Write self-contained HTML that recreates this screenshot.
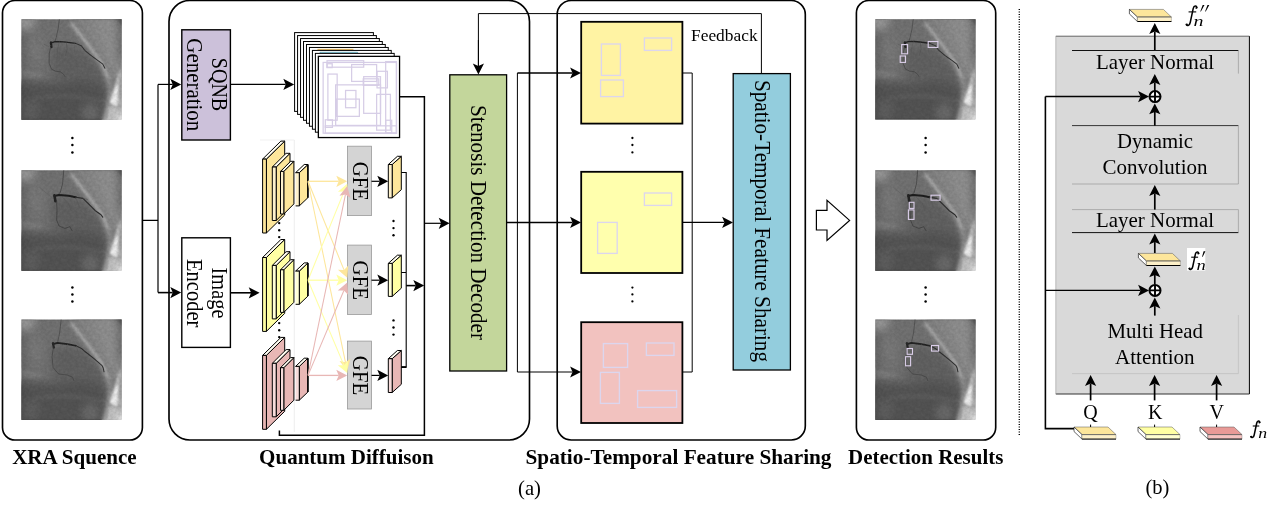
<!DOCTYPE html>
<html><head><meta charset="utf-8"><title>figure</title>
<style>
html,body{margin:0;padding:0;background:#fff;}
body{width:1269px;height:510px;overflow:hidden;font-family:"Liberation Serif",serif;}
svg{display:block;}
</style></head><body>
<svg width="1269" height="510" viewBox="0 0 1269 510">
<rect width="1269" height="510" fill="#fff"/>
<g id="all" style="will-change:opacity;opacity:0.9999">
<defs>
<filter id="b4" x="-20%" y="-20%" width="140%" height="140%"><feGaussianBlur stdDeviation="4"/></filter>
<filter id="b2" x="-20%" y="-20%" width="140%" height="140%"><feGaussianBlur stdDeviation="2"/></filter>
<filter id="b1" x="-20%" y="-20%" width="140%" height="140%"><feGaussianBlur stdDeviation="0.9"/></filter>
<filter id="b05" x="-20%" y="-20%" width="140%" height="140%"><feGaussianBlur stdDeviation="0.35"/></filter>
<filter id="nz" x="0" y="0" width="100%" height="100%"><feTurbulence type="fractalNoise" baseFrequency="0.35" numOctaves="2" seed="7" result="t"/><feColorMatrix type="matrix" values="0 0 0 0 0  0 0 0 0 0  0 0 0 0 0  1.6 0 0 0 -0.3"/></filter>
<clipPath id="cl"><rect width="100" height="100"/></clipPath>
<g id="xbg" clip-path="url(#cl)">
 <rect width="100" height="100" fill="#747474"/>
 <g filter="url(#b4)">
  <ellipse cx="5" cy="3" rx="9" ry="7" fill="#a0a0a0"/>
  <rect x="-4" y="12" width="8" height="40" fill="#626262"/>
  <ellipse cx="14" cy="30" rx="8" ry="14" fill="#7c7c7c"/>
  <polygon points="50,-5 110,-5 110,62 88,62 80,42 62,17" fill="#8a8a8a"/>
  <polygon points="72,-5 100,-5 96,48 88,50" fill="#929292"/>
  <polygon points="30,27 58,28 78,46 85,62 60,58 30,58" fill="#646464"/>
  <rect x="96" y="-5" width="10" height="46" fill="#6a6a6a"/>
  <polygon points="-10,60 30,62 60,58 86,64 86,110 -10,110" fill="#5a5a5a"/>
  <polygon points="-10,68 30,70 60,66 84,72 84,110 -10,110" fill="#545454"/>
  <ellipse cx="9" cy="90" rx="9" ry="11" fill="#606060"/><rect x="-6" y="60" width="8" height="50" fill="#484848"/>
  <ellipse cx="69" cy="93" rx="8" ry="9" fill="#6e6e6e"/>
 </g>
 <g filter="url(#b2)">
  <path d="M49,3 L62,20 L80,44 L87,60 L88.5,72 L86,84" fill="none" stroke="#bcbcbc" stroke-width="1.9"/>
  <path d="M3,53 Q12,56.5 20,55.5" fill="none" stroke="#8a8a8a" stroke-width="2.8"/>
  <path d="M14,78.5 Q50,73 82,82" fill="none" stroke="#676767" stroke-width="2.2"/>
  <polygon points="98.5,50 88,83 104,89 104,50" fill="#b2b2b2"/>
  <polygon points="86,84 104,90 104,104 81,104" fill="#c6c6c6"/>
  <polygon points="93,-3 103,-3 103,10" fill="#555"/>
  <polygon points="94,101 104,91 104,104" fill="#f4f4f4"/>
 </g>
 <g filter="url(#b1)">
  <path d="M50,4 L62,19.5 L80,43.5 L86.5,58" fill="none" stroke="#c4c4c4" stroke-width="1.1"/>
  <polygon points="98,51 94.5,64 97,64" fill="#cfcfcf"/>
  <polygon points="94.5,64 88.2,83 95,87 99,68" fill="#f0f0f0"/>
  <polygon points="97.3,60 101,60 101,78 96,78" fill="#a2a2a2"/>
  <path d="M87.5,84 Q84,92 85,99" fill="none" stroke="#888" stroke-width="1.1"/>
 </g>
 <line x1="0" y1="0.3" x2="100" y2="0.3" stroke="#4a4a4a" stroke-width="0.6" opacity="0.7"/>
 <line x1="0" y1="99.7" x2="80" y2="99.7" stroke="#2a2a2a" stroke-width="0.7" opacity="0.8"/>
 <rect width="100" height="100" filter="url(#nz)" opacity="0.10"/>
</g>
<g id="xr1">
 <use href="#xbg"/>
 <g clip-path="url(#cl)" filter="url(#b05)" fill="none" stroke-linecap="round" stroke-linejoin="round">
  <path d="M37.9,0 L36.6,10 L34.8,18 L33.6,21.8" stroke="#3a3a3a" stroke-width="0.55"/>
  <path d="M14,18 L22,27 L27,31" stroke="#666" stroke-width="0.45"/>
  <path d="M29.6,23.4 L33,22.4 L39,22.2 L44.5,22.7 L54,24" stroke="#222" stroke-width="1.35"/>
  <path d="M29.5,23 L30,27.8" stroke="#222" stroke-width="2.3"/>
  <path d="M54,24 L59.8,26.3 L62.5,30 L64,31.6 L70,36.5 L77.1,41.6 L81.2,44.7 L83.3,48.8" stroke="#303030" stroke-width="1.0"/>
  <path d="M29.2,28 L27.8,34.5 L27.7,43.7 L30.2,49.8 L34,51.6 L39,52.4 L42,54.5 L43.5,57" stroke="#404040" stroke-width="0.7"/>
  <path d="M45,23.5 L45.6,30 L44,36" stroke="#505050" stroke-width="0.55"/><path d="M38,22.5 L36,30 L35.5,40" stroke="#555" stroke-width="0.5"/><path d="M23,25 L27,27 L29.5,26" stroke="#555" stroke-width="0.5"/>
  <path d="M52.7,24 L53.2,32" stroke="#5a5a5a" stroke-width="0.5"/>
 </g>
</g>
<g id="xr2">
 <use href="#xbg"/>
 <g clip-path="url(#cl)" filter="url(#b05)" fill="none" stroke-linecap="round" stroke-linejoin="round">
  <path d="M42.3,0 L41.1,13.6 L38.8,22 L36.4,24.6" stroke="#333" stroke-width="0.6"/>
  <path d="M18.4,17.2 L25.6,23.2 L30.4,26.8" stroke="#5e5e5e" stroke-width="0.45"/>
  <path d="M33,25.6 L37.6,24.6 L47.1,25.4 L54.3,26.8" stroke="#1c1c1c" stroke-width="1.9"/>
  <path d="M33,25 L34,30.8" stroke="#222" stroke-width="2.6"/>
  <path d="M54.3,26.8 L61.5,28 L63.9,30.4 L67.5,34 L73.4,40 L79.4,44.3 L81.1,46.7" stroke="#2a2a2a" stroke-width="1.15"/>
  <path d="M35.2,31.6 L35.6,40 L35.2,49.5 L37.6,55.5 L43.5,57.9 L48.3,56.2 L50.7,60.3" stroke="#3c3c3c" stroke-width="0.75"/>
  <path d="M41.1,27 L47.1,32.8 L49.5,40" stroke="#555" stroke-width="0.5"/>
  <path d="M54.3,27.5 L57.9,36.4" stroke="#555" stroke-width="0.5"/>
  <path d="M61.5,28 L66,29" stroke="#555" stroke-width="0.5"/>
 </g>
</g>
<g id="xr3">
 <use href="#xbg"/>
 <g clip-path="url(#cl)" filter="url(#b05)" fill="none" stroke-linecap="round" stroke-linejoin="round">
  <path d="M39.7,0 L38.2,13.4 L36.4,22" stroke="#3a3a3a" stroke-width="0.55"/>
  <path d="M18,14 L25,20 L30.6,24" stroke="#666" stroke-width="0.45"/>
  <path d="M31.5,24.6 L36,23.4 L46,24.6 L54.4,26.3" stroke="#202020" stroke-width="1.65"/>
  <path d="M31.6,23.6 L32.4,28.2" stroke="#262626" stroke-width="2.2"/>
  <path d="M54.4,26.3 L60,29 L63,31.7 L66,34 L72.7,39.3 L80.2,45.7 L81.6,48.5 L82.4,52.2" stroke="#2e2e2e" stroke-width="1.05"/>
  <path d="M31.9,28.5 L30.6,37.1 L31.7,47.9 L37.1,54.4 L45.7,55.4 L51.1,57.6 L52.2,60.8" stroke="#404040" stroke-width="0.7"/>
  <path d="M46,25 L44.5,33 L44,42" stroke="#5a5a5a" stroke-width="0.5"/>
  <path d="M55,27 L57.5,36" stroke="#5a5a5a" stroke-width="0.5"/>
 </g>
</g>
</defs>

<rect x="2.5" y="0.5" width="139.9" height="439.5" rx="12.5" ry="12.5" fill="none" stroke="#000" stroke-width="1.65"/>
<rect x="169" y="0.5" width="360.5" height="439.5" rx="21" ry="21" fill="none" stroke="#000" stroke-width="1.65"/>
<rect x="557.2" y="0.5" width="248.0999999999999" height="439.5" rx="14" ry="14" fill="none" stroke="#000" stroke-width="1.65"/>
<rect x="856.4" y="0.5" width="139.30000000000007" height="439.5" rx="12.5" ry="12.5" fill="none" stroke="#000" stroke-width="1.65"/>
<use href="#xr1" transform="translate(21.3,19.3) scale(1.004)"/>
<use href="#xr2" transform="translate(21.3,170.3) scale(1.004)"/>
<use href="#xr3" transform="translate(21.3,319.4) scale(1.004)"/>
<circle cx="72.4" cy="138" r="1.25" fill="#000"/><circle cx="72.4" cy="145" r="1.25" fill="#000"/><circle cx="72.4" cy="152.4" r="1.25" fill="#000"/>
<circle cx="72.4" cy="287.6" r="1.25" fill="#000"/><circle cx="72.4" cy="294.4" r="1.25" fill="#000"/><circle cx="72.4" cy="301.4" r="1.25" fill="#000"/>
<use href="#xr1" transform="translate(875.2,19.2) scale(1.004)"/>
<use href="#xr2" transform="translate(875.2,170.3) scale(1.004)"/>
<use href="#xr3" transform="translate(875.2,319.4) scale(1.004)"/>
<circle cx="925.6" cy="138" r="1.25" fill="#000"/><circle cx="925.6" cy="145" r="1.25" fill="#000"/><circle cx="925.6" cy="152.4" r="1.25" fill="#000"/>
<circle cx="925.6" cy="287.6" r="1.25" fill="#000"/><circle cx="925.6" cy="294.4" r="1.25" fill="#000"/><circle cx="925.6" cy="301.4" r="1.25" fill="#000"/>
<path d="M142.4,220.4 H158 M158,84.4 V292.6" fill="none" stroke="#000" stroke-width="1.2"/>
<line x1="158" y1="84.4" x2="172.70" y2="84.40" stroke="#000" stroke-width="1.2"/><polygon points="181.20,84.40 170.30,90.00 172.70,84.40 170.30,78.80" fill="#000"/>
<line x1="158" y1="292.6" x2="172.70" y2="292.60" stroke="#000" stroke-width="1.6"/><polygon points="181.20,292.60 170.30,298.20 172.70,292.60 170.30,287.00" fill="#000"/>
<rect x="181.8" y="29.8" width="48.6" height="110.2" fill="#ccc1da" stroke="#000" stroke-width="1.4"/>
<text transform="translate(212,84.5) rotate(90)" text-anchor="middle" font-family="Liberation Serif, serif" font-size="22.2" textLength="53.5" lengthAdjust="spacingAndGlyphs">SQNB</text>
<text transform="translate(187,84.8) rotate(90)" text-anchor="middle" font-family="Liberation Serif, serif" font-size="22.2" textLength="93" lengthAdjust="spacingAndGlyphs">Generation</text>
<rect x="181.8" y="237.8" width="48.6" height="109.6" fill="#fff" stroke="#000" stroke-width="1.4"/>
<text transform="translate(212,293) rotate(90)" text-anchor="middle" font-family="Liberation Serif, serif" font-size="22.2" textLength="51" lengthAdjust="spacingAndGlyphs">Image</text>
<text transform="translate(187,293.2) rotate(90)" text-anchor="middle" font-family="Liberation Serif, serif" font-size="22.2" textLength="68.4" lengthAdjust="spacingAndGlyphs">Encoder</text>
<line x1="230.4" y1="84.4" x2="285.70" y2="84.40" stroke="#000" stroke-width="1.2"/><polygon points="294.20,84.40 283.30,90.00 285.70,84.40 283.30,78.80" fill="#000"/>
<line x1="230.4" y1="292.8" x2="251.10" y2="292.80" stroke="#000" stroke-width="1.6"/><polygon points="259.60,292.80 248.70,298.40 251.10,292.80 248.70,287.20" fill="#000"/>
<rect x="294.60" y="32.60" width="78.8" height="78.8" fill="#fff" stroke="#000" stroke-width="1.0"/>
<rect x="297.57" y="35.57" width="78.8" height="78.8" fill="#fff" stroke="#000" stroke-width="1.0"/>
<rect x="300.54" y="38.54" width="78.8" height="78.8" fill="#fff" stroke="#000" stroke-width="1.0"/>
<rect x="303.51" y="41.51" width="78.8" height="78.8" fill="#fff" stroke="#000" stroke-width="1.0"/>
<rect x="306.48" y="44.48" width="78.8" height="78.8" fill="#fff" stroke="#000" stroke-width="1.0"/>
<rect x="309.45" y="47.45" width="78.8" height="78.8" fill="#fff" stroke="#000" stroke-width="1.0"/>
<line x1="317.45" y1="49.35" x2="353.45" y2="49.35" stroke="#e0a93a" stroke-width="0.9"/>
<rect x="312.42" y="50.42" width="78.8" height="78.8" fill="#fff" stroke="#000" stroke-width="1.0"/>
<path d="M320.02,53.42 V52.32 H357.62 V53.42" fill="none" stroke="#3fa0b6" stroke-width="0.8"/>
<rect x="315.39" y="53.39" width="78.8" height="78.8" fill="#fff" stroke="#000" stroke-width="1.0"/>
<rect x="318.36" y="56.36" width="81.2" height="81.2" fill="#fff" stroke="#000" stroke-width="1.3"/>
<rect x="323.14" y="62.44" width="73.32" height="70.73" fill="none" stroke="#d6cde6" stroke-width="1.25"/>
<rect x="327.03" y="60.71" width="36.66" height="6.47" fill="none" stroke="#d6cde6" stroke-width="1.25"/>
<rect x="327.03" y="63.73" width="5.18" height="3.88" fill="none" stroke="#d6cde6" stroke-width="1.25"/>
<rect x="351.61" y="64.59" width="25.01" height="16.82" fill="none" stroke="#d6cde6" stroke-width="1.25"/>
<rect x="363.68" y="76.67" width="16.82" height="36.66" fill="none" stroke="#d6cde6" stroke-width="1.25"/>
<rect x="377.05" y="71.28" width="10.35" height="16.60" fill="none" stroke="#d6cde6" stroke-width="1.25"/>
<rect x="385.68" y="61.58" width="10.78" height="71.59" fill="none" stroke="#d6cde6" stroke-width="1.25"/>
<rect x="327.89" y="74.08" width="9.27" height="46.15" fill="none" stroke="#d6cde6" stroke-width="1.25"/>
<rect x="335.65" y="84.86" width="44.85" height="40.54" fill="none" stroke="#d6cde6" stroke-width="1.25"/>
<rect x="345.57" y="90.47" width="10.35" height="17.25" fill="none" stroke="#d6cde6" stroke-width="1.25"/>
<rect x="336.51" y="99.10" width="22.86" height="17.25" fill="none" stroke="#d6cde6" stroke-width="1.25"/>
<rect x="325.30" y="119.80" width="7.12" height="7.55" fill="none" stroke="#d6cde6" stroke-width="1.25"/>
<rect x="376.62" y="94.35" width="13.80" height="35.80" fill="none" stroke="#d6cde6" stroke-width="1.25"/>
<rect x="385.68" y="120.23" width="6.04" height="12.51" fill="none" stroke="#d6cde6" stroke-width="1.25"/>
<rect x="325.30" y="125.83" width="71.16" height="7.33" fill="none" stroke="#d6cde6" stroke-width="1.25"/>
<rect x="363.25" y="78.83" width="15.53" height="6.47" fill="none" stroke="#d6cde6" stroke-width="1.25"/>
<path d="M399.6,96.7 H424.4 V435.2 H279.4 V430.5" fill="none" stroke="#000" stroke-width="1.5"/>
<line x1="424.4" y1="223.3" x2="441.10" y2="223.30" stroke="#000" stroke-width="1.2"/><polygon points="449.60,223.30 438.70,228.90 441.10,223.30 438.70,217.70" fill="#000"/>
<line x1="294.3" y1="140" x2="294.3" y2="432" stroke="#e8e8e8" stroke-width="0.8"/>
<line x1="260" y1="140" x2="294.3" y2="140" stroke="#eeeeee" stroke-width="0.8"/>
<polygon points="266.4,159.1 284.7,141.1 284.7,215 266.4,233" fill="#fde69b" stroke="#000" stroke-width="1.0" stroke-linejoin="round"/><polygon points="262.6,159.1 266.4,159.1 284.7,141.1 280.90000000000003,141.1" fill="#fffdf2" stroke="#000" stroke-width="1.0" stroke-linejoin="round"/><rect x="262.6" y="159.1" width="3.7999999999999545" height="73.9" fill="#fde69b" stroke="#000" stroke-width="1.0" stroke-linejoin="round"/>
<polygon points="276.2,167 290.0,153.3 290.0,206.8 276.2,220.5" fill="#fde69b" stroke="#000" stroke-width="1.0" stroke-linejoin="round"/><polygon points="272.3,167 276.2,167 290.0,153.3 286.1,153.3" fill="#fffdf2" stroke="#000" stroke-width="1.0" stroke-linejoin="round"/><rect x="272.3" y="167" width="3.8999999999999773" height="53.5" fill="#fdf1cc" stroke="#000" stroke-width="1.0" stroke-linejoin="round"/>
<polygon points="283.8,171.4 293.90000000000003,161.3 293.90000000000003,203.9 283.8,214" fill="#fde69b" stroke="#000" stroke-width="1.0" stroke-linejoin="round"/><polygon points="280.5,171.4 283.8,171.4 293.90000000000003,161.3 290.6,161.3" fill="#fffdf2" stroke="#000" stroke-width="1.0" stroke-linejoin="round"/><rect x="280.5" y="171.4" width="3.3000000000000114" height="42.599999999999994" fill="#fdf1cc" stroke="#000" stroke-width="1.0" stroke-linejoin="round"/>
<polygon points="299.3,172.7 307.90000000000003,164.5 307.90000000000003,197.70000000000002 299.3,205.9" fill="#fde69b" stroke="#000" stroke-width="1.0" stroke-linejoin="round"/><polygon points="295.6,172.7 299.3,172.7 307.90000000000003,164.5 304.20000000000005,164.5" fill="#fffdf2" stroke="#000" stroke-width="1.0" stroke-linejoin="round"/><rect x="295.6" y="172.7" width="3.6999999999999886" height="33.20000000000002" fill="#fdf1cc"/><path d="M295.6,172.7 H299.3 V205.9 H295.6" fill="none" stroke="#000" stroke-width="1.0" stroke-linejoin="round"/><path d="M307.90000000000003,164.5 V197.70000000000002" fill="none" stroke="#000" stroke-width="1.5"/>
<polygon points="266.4,257.5 284.7,239.5 284.7,313.4 266.4,331.4" fill="#ffffa3" stroke="#000" stroke-width="1.0" stroke-linejoin="round"/><polygon points="262.6,257.5 266.4,257.5 284.7,239.5 280.90000000000003,239.5" fill="#fffdf2" stroke="#000" stroke-width="1.0" stroke-linejoin="round"/><rect x="262.6" y="257.5" width="3.7999999999999545" height="73.89999999999998" fill="#ffffa3" stroke="#000" stroke-width="1.0" stroke-linejoin="round"/>
<polygon points="276.2,265.4 290.0,251.7 290.0,305.2 276.2,318.9" fill="#ffffa3" stroke="#000" stroke-width="1.0" stroke-linejoin="round"/><polygon points="272.3,265.4 276.2,265.4 290.0,251.7 286.1,251.7" fill="#fffdf2" stroke="#000" stroke-width="1.0" stroke-linejoin="round"/><rect x="272.3" y="265.4" width="3.8999999999999773" height="53.5" fill="#ffffd6" stroke="#000" stroke-width="1.0" stroke-linejoin="round"/>
<polygon points="283.8,269.8 293.90000000000003,259.7 293.90000000000003,302.29999999999995 283.8,312.4" fill="#ffffa3" stroke="#000" stroke-width="1.0" stroke-linejoin="round"/><polygon points="280.5,269.8 283.8,269.8 293.90000000000003,259.7 290.6,259.7" fill="#fffdf2" stroke="#000" stroke-width="1.0" stroke-linejoin="round"/><rect x="280.5" y="269.8" width="3.3000000000000114" height="42.599999999999966" fill="#ffffd6" stroke="#000" stroke-width="1.0" stroke-linejoin="round"/>
<polygon points="299.3,271.1 307.90000000000003,262.90000000000003 307.90000000000003,296.1 299.3,304.3" fill="#ffffa3" stroke="#000" stroke-width="1.0" stroke-linejoin="round"/><polygon points="295.6,271.1 299.3,271.1 307.90000000000003,262.90000000000003 304.20000000000005,262.90000000000003" fill="#fffdf2" stroke="#000" stroke-width="1.0" stroke-linejoin="round"/><rect x="295.6" y="271.1" width="3.6999999999999886" height="33.19999999999999" fill="#ffffd6"/><path d="M295.6,271.1 H299.3 V304.3 H295.6" fill="none" stroke="#000" stroke-width="1.0" stroke-linejoin="round"/><path d="M307.90000000000003,262.90000000000003 V296.1" fill="none" stroke="#000" stroke-width="1.5"/>
<polygon points="266.4,355.4 284.7,337.4 284.7,411.3 266.4,429.3" fill="#e8b7b5" stroke="#000" stroke-width="1.0" stroke-linejoin="round"/><polygon points="262.6,355.4 266.4,355.4 284.7,337.4 280.90000000000003,337.4" fill="#fffdf2" stroke="#000" stroke-width="1.0" stroke-linejoin="round"/><rect x="262.6" y="355.4" width="3.7999999999999545" height="73.90000000000003" fill="#e8b7b5" stroke="#000" stroke-width="1.0" stroke-linejoin="round"/>
<polygon points="276.2,363.3 290.0,349.6 290.0,403.1 276.2,416.8" fill="#e8b7b5" stroke="#000" stroke-width="1.0" stroke-linejoin="round"/><polygon points="272.3,363.3 276.2,363.3 290.0,349.6 286.1,349.6" fill="#fffdf2" stroke="#000" stroke-width="1.0" stroke-linejoin="round"/><rect x="272.3" y="363.3" width="3.8999999999999773" height="53.5" fill="#f6dcdb" stroke="#000" stroke-width="1.0" stroke-linejoin="round"/>
<polygon points="283.8,367.70000000000005 293.90000000000003,357.6 293.90000000000003,400.2 283.8,410.3" fill="#e8b7b5" stroke="#000" stroke-width="1.0" stroke-linejoin="round"/><polygon points="280.5,367.70000000000005 283.8,367.70000000000005 293.90000000000003,357.6 290.6,357.6" fill="#fffdf2" stroke="#000" stroke-width="1.0" stroke-linejoin="round"/><rect x="280.5" y="367.70000000000005" width="3.3000000000000114" height="42.599999999999966" fill="#f6dcdb" stroke="#000" stroke-width="1.0" stroke-linejoin="round"/>
<polygon points="299.3,366.4 307.90000000000003,358.2 307.90000000000003,392.00000000000006 299.3,400.20000000000005" fill="#e8b7b5" stroke="#000" stroke-width="1.0" stroke-linejoin="round"/><polygon points="295.6,366.4 299.3,366.4 307.90000000000003,358.2 304.20000000000005,358.2" fill="#fffdf2" stroke="#000" stroke-width="1.0" stroke-linejoin="round"/><rect x="295.6" y="366.4" width="3.6999999999999886" height="33.80000000000007" fill="#f6dcdb"/><path d="M295.6,366.4 H299.3 V400.20000000000005 H295.6" fill="none" stroke="#000" stroke-width="1.0" stroke-linejoin="round"/><path d="M307.90000000000003,358.2 V392.00000000000006" fill="none" stroke="#000" stroke-width="1.5"/>
<circle cx="279.2" cy="223.1" r="1.2" fill="#000"/><circle cx="279.2" cy="230.2" r="1.2" fill="#000"/><circle cx="279.2" cy="237.1" r="1.2" fill="#000"/>
<circle cx="279.2" cy="323.1" r="1.2" fill="#000"/><circle cx="279.2" cy="330.2" r="1.2" fill="#000"/><circle cx="279.2" cy="337.1" r="1.2" fill="#000"/>
<rect x="347.4" y="146.2" width="24.1" height="69.4" fill="#d4d4d4" stroke="#9a9a9a" stroke-width="0.8"/>
<text transform="translate(352.6,181.39999999999998) rotate(90)" text-anchor="middle" font-family="Liberation Serif, serif" font-size="22.2" textLength="39.5" lengthAdjust="spacingAndGlyphs">GFE</text>
<rect x="347.4" y="245.1" width="24.1" height="69.4" fill="#d4d4d4" stroke="#9a9a9a" stroke-width="0.8"/>
<text transform="translate(352.6,280.3) rotate(90)" text-anchor="middle" font-family="Liberation Serif, serif" font-size="22.2" textLength="39.5" lengthAdjust="spacingAndGlyphs">GFE</text>
<rect x="347.4" y="341.1" width="24.1" height="67.89999999999998" fill="#d4d4d4" stroke="#9a9a9a" stroke-width="0.8"/>
<text transform="translate(352.6,375.55) rotate(90)" text-anchor="middle" font-family="Liberation Serif, serif" font-size="22.2" textLength="39.5" lengthAdjust="spacingAndGlyphs">GFE</text>
<line x1="308" y1="181.3" x2="338.70" y2="181.30" stroke="#fde69b" stroke-width="1.3"/><polygon points="347.20,181.30 336.30,186.90 338.70,181.30 336.30,175.70" fill="#fde69b"/>
<line x1="308" y1="181.3" x2="344.00" y2="269.92" stroke="#fde69b" stroke-width="1.05"/><polygon points="347.20,277.80 337.91,269.81 344.00,269.92 348.29,265.59" fill="#fde69b"/>
<line x1="308" y1="181.3" x2="345.48" y2="362.27" stroke="#fde69b" stroke-width="1.05"/><polygon points="347.20,370.60 339.51,361.06 345.48,362.27 350.47,358.79" fill="#fde69b"/>
<line x1="308" y1="280.2" x2="344.00" y2="191.58" stroke="#ffffa3" stroke-width="1.05"/><polygon points="347.20,183.70 348.29,195.91 344.00,191.58 337.91,191.69" fill="#ffffa3"/>
<line x1="308" y1="280.2" x2="338.70" y2="280.20" stroke="#ffffa3" stroke-width="1.3"/><polygon points="347.20,280.20 336.30,285.80 338.70,280.20 336.30,274.60" fill="#ffffa3"/>
<line x1="308" y1="280.2" x2="343.89" y2="365.17" stroke="#ffffa3" stroke-width="1.05"/><polygon points="347.20,373.00 337.80,365.14 343.89,365.17 348.12,360.78" fill="#ffffa3"/>
<line x1="308" y1="375.4" x2="345.48" y2="194.43" stroke="#e8b7b5" stroke-width="1.05"/><polygon points="347.20,186.10 350.47,197.91 345.48,194.43 339.51,195.64" fill="#e8b7b5"/>
<line x1="308" y1="375.4" x2="343.89" y2="290.43" stroke="#e8b7b5" stroke-width="1.05"/><polygon points="347.20,282.60 348.12,294.82 343.89,290.43 337.80,290.46" fill="#e8b7b5"/>
<line x1="308" y1="375.4" x2="338.70" y2="375.40" stroke="#e8b7b5" stroke-width="1.3"/><polygon points="347.20,375.40 336.30,381.00 338.70,375.40 336.30,369.80" fill="#e8b7b5"/>
<line x1="371.5" y1="181.3" x2="379.70" y2="181.30" stroke="#000" stroke-width="1.2"/><polygon points="388.20,181.30 377.30,186.90 379.70,181.30 377.30,175.70" fill="#000"/>
<polygon points="392.2,164.5 401.3,156.3 401.3,189.70000000000002 392.2,197.9" fill="#fde69b" stroke="#000" stroke-width="1.0" stroke-linejoin="round"/><polygon points="388.3,164.5 392.2,164.5 401.3,156.3 397.40000000000003,156.3" fill="#fffdf2" stroke="#000" stroke-width="1.0" stroke-linejoin="round"/><rect x="388.3" y="164.5" width="3.8999999999999773" height="33.400000000000006" fill="#fdf1cc" stroke="#000" stroke-width="1.0" stroke-linejoin="round"/>
<line x1="371.5" y1="280.2" x2="379.70" y2="280.20" stroke="#000" stroke-width="1.2"/><polygon points="388.20,280.20 377.30,285.80 379.70,280.20 377.30,274.60" fill="#000"/>
<polygon points="392.2,263.4 401.3,255.2 401.3,288.2 392.2,296.4" fill="#ffffa3" stroke="#000" stroke-width="1.0" stroke-linejoin="round"/><polygon points="388.3,263.4 392.2,263.4 401.3,255.2 397.40000000000003,255.2" fill="#fffdf2" stroke="#000" stroke-width="1.0" stroke-linejoin="round"/><rect x="388.3" y="263.4" width="3.8999999999999773" height="33.0" fill="#ffffd6" stroke="#000" stroke-width="1.0" stroke-linejoin="round"/>
<line x1="371.5" y1="375.4" x2="379.70" y2="375.40" stroke="#000" stroke-width="1.2"/><polygon points="388.20,375.40 377.30,381.00 379.70,375.40 377.30,369.80" fill="#000"/>
<polygon points="392.2,358.7 401.3,350.5 401.3,384.3 392.2,392.5" fill="#e8b7b5" stroke="#000" stroke-width="1.0" stroke-linejoin="round"/><polygon points="388.3,358.7 392.2,358.7 401.3,350.5 397.40000000000003,350.5" fill="#fffdf2" stroke="#000" stroke-width="1.0" stroke-linejoin="round"/><rect x="388.3" y="358.7" width="3.8999999999999773" height="33.80000000000001" fill="#f6dcdb" stroke="#000" stroke-width="1.0" stroke-linejoin="round"/>
<circle cx="393.5" cy="221" r="1.2" fill="#000"/><circle cx="393.5" cy="228.1" r="1.2" fill="#000"/><circle cx="393.5" cy="235.2" r="1.2" fill="#000"/>
<circle cx="393.5" cy="320.4" r="1.2" fill="#000"/><circle cx="393.5" cy="327.5" r="1.2" fill="#000"/><circle cx="393.5" cy="334.6" r="1.2" fill="#000"/>
<path d="M401.3,172.5 H406.2 V367.1 H401.3 M401.3,272.5 H406.2" fill="none" stroke="#000" stroke-width="1.1"/>
<path d="M401.3,367.1 H406.2" fill="none" stroke="#000" stroke-width="1.8"/>
<line x1="406.2" y1="285.6" x2="415.70" y2="285.60" stroke="#000" stroke-width="1.6"/><polygon points="424.20,285.60 413.30,291.20 415.70,285.60 413.30,280.00" fill="#000"/>
<rect x="449.8" y="74.8" width="56.8" height="296.2" fill="#c3d69b" stroke="#000" stroke-width="1.3"/>
<text transform="translate(471.4,222.5) rotate(90)" text-anchor="middle" font-family="Liberation Serif, serif" font-size="22.2" textLength="235" lengthAdjust="spacingAndGlyphs">Stenosis Detection Decoder</text>
<path d="M761.4,73 V13.6 H478.4 V66" fill="none" stroke="#000" stroke-width="1.0"/>
<line x1="478.4" y1="40" x2="478.40" y2="65.90" stroke="#000" stroke-width="1.0"/><polygon points="478.40,74.40 472.80,63.50 478.40,65.90 484.00,63.50" fill="#000"/>
<text x="724.3" y="40.6" text-anchor="middle" font-family="Liberation Serif, serif" font-size="17" font-weight="normal" textLength="66.6" lengthAdjust="spacingAndGlyphs" >Feedback</text>
<path d="M517.4,73 V372" fill="none" stroke="#000" stroke-width="1.0"/>
<line x1="517.4" y1="73" x2="572.50" y2="73.00" stroke="#000" stroke-width="1.5"/><polygon points="581.00,73.00 570.10,78.60 572.50,73.00 570.10,67.40" fill="#000"/>
<line x1="517.4" y1="372" x2="572.50" y2="372.00" stroke="#000" stroke-width="1.1"/><polygon points="581.00,372.00 570.10,377.60 572.50,372.00 570.10,366.40" fill="#000"/>
<line x1="506.6" y1="222.6" x2="572.50" y2="222.42" stroke="#000" stroke-width="1.5"/><polygon points="581.00,222.40 570.12,228.03 572.50,222.42 570.08,216.83" fill="#000"/>
<rect x="581.2" y="21.8" width="101.2" height="101.8" fill="#fff3a3" stroke="#000" stroke-width="1.8"/>
<rect x="581.2" y="171.8" width="101.2" height="101.2" fill="#ffffad" stroke="#000" stroke-width="1.8"/>
<rect x="581.2" y="322.2" width="101.2" height="100.8" fill="#f2c2bf" stroke="#000" stroke-width="1.8"/>
<rect x="601.4" y="44" width="19.00" height="31.40" fill="none" stroke="#dcd6ee" stroke-width="1.35"/>
<rect x="600.6" y="80" width="22.80" height="16.60" fill="none" stroke="#dcd6ee" stroke-width="1.35"/>
<rect x="644.4" y="38" width="27.20" height="12.40" fill="none" stroke="#dcd6ee" stroke-width="1.35"/>
<rect x="644.4" y="193" width="27.20" height="12.40" fill="none" stroke="#dcd6ee" stroke-width="1.35"/>
<rect x="597.6" y="222.4" width="19.60" height="31.00" fill="none" stroke="#dcd6ee" stroke-width="1.35"/>
<rect x="603.4" y="343.6" width="24.20" height="23.80" fill="none" stroke="#dcd6ee" stroke-width="1.35"/>
<rect x="646.4" y="343" width="27.60" height="12.40" fill="none" stroke="#dcd6ee" stroke-width="1.35"/>
<rect x="600.4" y="372.4" width="19.00" height="31.00" fill="none" stroke="#dcd6ee" stroke-width="1.35"/>
<rect x="637.6" y="390.6" width="39.00" height="16.80" fill="none" stroke="#dcd6ee" stroke-width="1.35"/>
<circle cx="632.4" cy="138" r="1.15" fill="#000"/><circle cx="632.4" cy="145" r="1.15" fill="#000"/><circle cx="632.4" cy="152.4" r="1.15" fill="#000"/>
<circle cx="632.4" cy="287.6" r="1.15" fill="#000"/><circle cx="632.4" cy="294.4" r="1.15" fill="#000"/><circle cx="632.4" cy="301.4" r="1.15" fill="#000"/>
<path d="M682.4,73 H692.2 V372 H682.4" fill="none" stroke="#000" stroke-width="1.0"/>
<line x1="682.4" y1="222.4" x2="724.50" y2="222.40" stroke="#000" stroke-width="1.2"/><polygon points="733.00,222.40 722.10,228.00 724.50,222.40 722.10,216.80" fill="#000"/>
<rect x="733.2" y="73.6" width="57.2" height="296.4" fill="#93cddd" stroke="#000" stroke-width="1.3"/>
<text transform="translate(754.6,221) rotate(90)" text-anchor="middle" font-family="Liberation Serif, serif" font-size="22.2" textLength="282" lengthAdjust="spacingAndGlyphs">Spatio-Temporal Feature Sharing</text>
<polygon points="816.4,210.4 827,210.4 827,200.4 849.6,220.4 827,240.4 827,230 816.4,230" fill="#fff" stroke="#000" stroke-width="1.2" stroke-linejoin="miter"/>
<rect x="901.7" y="44.6" width="5.90" height="9.20" fill="none" stroke="#dccfea" stroke-width="1.1"/>
<rect x="900.2" y="56" width="5.30" height="6.40" fill="none" stroke="#dccfea" stroke-width="1.1"/>
<rect x="928.2" y="41.5" width="9.70" height="5.90" fill="none" stroke="#dccfea" stroke-width="1.1"/>
<rect x="909.3" y="202.3" width="4.70" height="6.10" fill="none" stroke="#dccfea" stroke-width="1.1"/>
<rect x="908.4" y="209.9" width="5.60" height="9.50" fill="none" stroke="#dccfea" stroke-width="1.1"/>
<rect x="931" y="195.2" width="9.10" height="5.00" fill="none" stroke="#dccfea" stroke-width="1.1"/>
<rect x="907.1" y="348.5" width="5.40" height="5.80" fill="none" stroke="#dccfea" stroke-width="1.1"/>
<rect x="905.6" y="356.7" width="5.00" height="9.10" fill="none" stroke="#dccfea" stroke-width="1.1"/>
<rect x="931.5" y="345.5" width="7.10" height="5.60" fill="none" stroke="#dccfea" stroke-width="1.1"/>
<line x1="1019.3" y1="9" x2="1019.3" y2="436" stroke="#000" stroke-width="1.4" stroke-dasharray="1.1,1.4"/>
<rect x="1055.8" y="36.2" width="193.6" height="357.8" fill="#d9d9d9"/>
<path d="M1055.8,36.2 H1249.4" stroke="#444" stroke-width="0.8" fill="none"/><path d="M1249.4,36.2 V394" stroke="#000" stroke-width="1.0" fill="none"/><path d="M1249.4,394 H1055.8" stroke="#333" stroke-width="1.0" fill="none"/><path d="M1055.8,394 V36.2" stroke="#999" stroke-width="0.6" fill="none"/>
<path d="M1072,50.5 H1238.4" stroke="#111" stroke-width="1.0" fill="none"/><path d="M1238.4,50.5 V73.6" stroke="#9a9a9a" stroke-width="0.7" fill="none"/>
<path d="M1072,125.6 H1238.4" stroke="#222" stroke-width="0.9" fill="none"/><path d="M1238.4,125.6 V184 H1072" stroke="#9a9a9a" stroke-width="0.7" fill="none"/>
<path d="M1072,232.6 H1238.4" stroke="#111" stroke-width="1.0" fill="none"/><path d="M1072,209.6 H1238.4 V232.6" stroke="#9a9a9a" stroke-width="0.7" fill="none"/>
<path d="M1238.4,315 V373.6 H1072" stroke="#bdbdbd" stroke-width="0.7" fill="none"/>
<text x="1155" y="69" text-anchor="middle" font-family="Liberation Serif, serif" font-size="22" font-weight="normal" textLength="118" lengthAdjust="spacingAndGlyphs" >Layer Normal</text>
<text x="1155" y="148.4" text-anchor="middle" font-family="Liberation Serif, serif" font-size="22" font-weight="normal" textLength="76" lengthAdjust="spacingAndGlyphs" >Dynamic</text>
<text x="1155" y="173.6" text-anchor="middle" font-family="Liberation Serif, serif" font-size="22" font-weight="normal" textLength="105" lengthAdjust="spacingAndGlyphs" >Convolution</text>
<text x="1155" y="226.6" text-anchor="middle" font-family="Liberation Serif, serif" font-size="22" font-weight="normal" textLength="118" lengthAdjust="spacingAndGlyphs" >Layer Normal</text>
<text x="1155.2" y="337.6" text-anchor="middle" font-family="Liberation Serif, serif" font-size="22" font-weight="normal" textLength="95.6" lengthAdjust="spacingAndGlyphs" >Multi Head</text>
<text x="1154.8" y="363.6" text-anchor="middle" font-family="Liberation Serif, serif" font-size="22" font-weight="normal" textLength="79.6" lengthAdjust="spacingAndGlyphs" >Attention</text>
<path d="M1074,428.6 H1045.4 V96.6" fill="none" stroke="#000" stroke-width="1.6"/>
<line x1="1045.4" y1="96.6" x2="1140.50" y2="96.60" stroke="#000" stroke-width="1.5"/><polygon points="1149.00,96.60 1138.10,102.20 1140.50,96.60 1138.10,91.00" fill="#000"/>
<line x1="1045.4" y1="290.4" x2="1140.50" y2="290.40" stroke="#000" stroke-width="1.3"/><polygon points="1149.00,290.40 1138.10,296.00 1140.50,290.40 1138.10,284.80" fill="#000"/>
<line x1="1154.8" y1="50" x2="1154.80" y2="31.50" stroke="#000" stroke-width="1.7"/><polygon points="1154.80,23.00 1160.40,33.90 1154.80,31.50 1149.20,33.90" fill="#000"/>
<line x1="1154.8" y1="91" x2="1154.80" y2="82.50" stroke="#000" stroke-width="1.7"/><polygon points="1154.80,74.00 1160.40,84.90 1154.80,82.50 1149.20,84.90" fill="#000"/>
<line x1="1154.8" y1="125.6" x2="1154.80" y2="111.90" stroke="#000" stroke-width="1.7"/><polygon points="1154.80,103.40 1160.40,114.30 1154.80,111.90 1149.20,114.30" fill="#000"/>
<line x1="1154.8" y1="209.6" x2="1154.80" y2="193.50" stroke="#000" stroke-width="1.7"/><polygon points="1154.80,185.00 1160.40,195.90 1154.80,193.50 1149.20,195.90" fill="#000"/>
<line x1="1154.8" y1="253" x2="1154.80" y2="242.10" stroke="#000" stroke-width="1.7"/><polygon points="1154.80,233.60 1160.40,244.50 1154.80,242.10 1149.20,244.50" fill="#000"/>
<line x1="1154.8" y1="284" x2="1154.80" y2="274.90" stroke="#000" stroke-width="1.7"/><polygon points="1154.80,266.40 1160.40,277.30 1154.80,274.90 1149.20,277.30" fill="#000"/>
<line x1="1154.8" y1="315.6" x2="1154.80" y2="306.10" stroke="#000" stroke-width="1.7"/><polygon points="1154.80,297.60 1160.40,308.50 1154.80,306.10 1149.20,308.50" fill="#000"/>
<line x1="1090.6" y1="400.4" x2="1090.60" y2="383.50" stroke="#000" stroke-width="1.7"/><polygon points="1090.60,375.00 1096.20,385.90 1090.60,383.50 1085.00,385.90" fill="#000"/>
<line x1="1154.6" y1="400.4" x2="1154.60" y2="383.50" stroke="#000" stroke-width="1.7"/><polygon points="1154.60,375.00 1160.20,385.90 1154.60,383.50 1149.00,385.90" fill="#000"/>
<line x1="1216.6" y1="400.4" x2="1216.60" y2="383.50" stroke="#000" stroke-width="1.7"/><polygon points="1216.60,375.00 1222.20,385.90 1216.60,383.50 1211.00,385.90" fill="#000"/>
<circle cx="1155" cy="96.6" r="5.5" fill="#fff" stroke="#000" stroke-width="2.0"/><path d="M1149.4,96.6 H1160.6 M1155,91.0 V102.19999999999999" stroke="#000" stroke-width="1.9"/>
<circle cx="1155" cy="290.4" r="5.5" fill="#fff" stroke="#000" stroke-width="2.0"/><path d="M1149.4,290.4 H1160.6 M1155,284.79999999999995 V296.0" stroke="#000" stroke-width="1.9"/>
<polygon points="1129.4,9.4 1163.4,9.4 1171.4,17.0 1137.4,17.0" fill="#fde69b" stroke="#555" stroke-width="0.5" stroke-linejoin="round"/><polygon points="1129.4,9.4 1137.4,17.0 1137.4,21.5 1129.4,13.9" fill="#fff" stroke="#222" stroke-width="0.7" stroke-linejoin="round"/><polygon points="1137.4,17.0 1171.4,17.0 1171.4,21.5 1137.4,21.5" fill="#fdf0c8" stroke="#777" stroke-width="0.4" stroke-linejoin="round"/><path d="M1137.4,21.5 H1171.4" stroke="#000" stroke-width="1.0" fill="none"/><path d="M1137.4,17.0 H1171.4" stroke="#444" stroke-width="0.6" fill="none"/>
<polygon points="1138.4,253.4 1172.4,253.4 1180.4,261.0 1146.4,261.0" fill="#fde69b" stroke="#555" stroke-width="0.5" stroke-linejoin="round"/><polygon points="1138.4,253.4 1146.4,261.0 1146.4,265.5 1138.4,257.9" fill="#fff" stroke="#222" stroke-width="0.7" stroke-linejoin="round"/><polygon points="1146.4,261.0 1180.4,261.0 1180.4,265.5 1146.4,265.5" fill="#fdf0c8" stroke="#777" stroke-width="0.4" stroke-linejoin="round"/><path d="M1146.4,265.5 H1180.4" stroke="#000" stroke-width="1.0" fill="none"/><path d="M1146.4,261.0 H1180.4" stroke="#444" stroke-width="0.6" fill="none"/>
<polygon points="1074,427 1108,427 1116,434.6 1082,434.6" fill="#fde69b" stroke="#555" stroke-width="0.5" stroke-linejoin="round"/><polygon points="1074,427 1082,434.6 1082,439.1 1074,431.5" fill="#fff" stroke="#222" stroke-width="0.7" stroke-linejoin="round"/><polygon points="1082,434.6 1116,434.6 1116,439.1 1082,439.1" fill="#fdf0c8" stroke="#777" stroke-width="0.4" stroke-linejoin="round"/><path d="M1082,439.1 H1116" stroke="#000" stroke-width="1.0" fill="none"/><path d="M1082,434.6 H1116" stroke="#444" stroke-width="0.6" fill="none"/>
<polygon points="1138,427 1172,427 1180,434.6 1146,434.6" fill="#ffffa3" stroke="#555" stroke-width="0.5" stroke-linejoin="round"/><polygon points="1138,427 1146,434.6 1146,439.1 1138,431.5" fill="#fff" stroke="#222" stroke-width="0.7" stroke-linejoin="round"/><polygon points="1146,434.6 1180,434.6 1180,439.1 1146,439.1" fill="#ffffd0" stroke="#777" stroke-width="0.4" stroke-linejoin="round"/><path d="M1146,439.1 H1180" stroke="#000" stroke-width="1.0" fill="none"/><path d="M1146,434.6 H1180" stroke="#444" stroke-width="0.6" fill="none"/>
<polygon points="1200,427 1234,427 1242,434.6 1208,434.6" fill="#e99a97" stroke="#555" stroke-width="0.5" stroke-linejoin="round"/><polygon points="1200,427 1208,434.6 1208,439.1 1200,431.5" fill="#fff" stroke="#222" stroke-width="0.7" stroke-linejoin="round"/><polygon points="1208,434.6 1242,434.6 1242,439.1 1208,439.1" fill="#f6c3c1" stroke="#777" stroke-width="0.4" stroke-linejoin="round"/><path d="M1208,439.1 H1242" stroke="#000" stroke-width="1.0" fill="none"/><path d="M1208,434.6 H1242" stroke="#444" stroke-width="0.6" fill="none"/>
<line x1="1090.6" y1="424.6" x2="1090.6" y2="427" stroke="#000" stroke-width="1.0"/>
<line x1="1154.6" y1="424.6" x2="1154.6" y2="427" stroke="#000" stroke-width="1.0"/>
<line x1="1216.6" y1="424.6" x2="1216.6" y2="427" stroke="#000" stroke-width="1.0"/>
<text x="1090.4" y="419" text-anchor="middle" font-family="Liberation Serif, serif" font-size="20" font-weight="normal" >Q</text>
<text x="1155.2" y="419" text-anchor="middle" font-family="Liberation Serif, serif" font-size="20" font-weight="normal" >K</text>
<text x="1216.8" y="419" text-anchor="middle" font-family="Liberation Serif, serif" font-size="20" font-weight="normal" >V</text>
<rect x="1187" y="248" width="18.3" height="22.6" fill="#fff"/>
<path d="M1197.00,7.60 C1196.56,5.50 1194.00,5.30 1193.23,8.40 L1190.23,22.50 C1189.56,25.60 1187.34,26.30 1186.23,24.50" fill="none" stroke="#000" stroke-width="1.5" stroke-linecap="round"/><circle cx="1196.33" cy="7.90" r="0.95" fill="#000"/><circle cx="1186.90" cy="24.50" r="0.95" fill="#000"/><path d="M1188.56,11.90 H1196.22" stroke="#000" stroke-width="1.1" fill="none"/><text transform="translate(1193.52,25.90) scale(1.357,1)" font-family="Liberation Serif, serif" font-size="14.74" font-style="italic">n</text><path d="M1202.6999999999998,5 L1204.5,5 L1200.9499999999998,11.5 L1200.25,11.5 Z" fill="#000"/><path d="M1207.5,5 L1209.3000000000002,5 L1205.75,11.5 L1205.0500000000002,11.5 Z" fill="#000"/>
<path d="M1198.79,253.33 C1198.39,251.44 1196.09,251.26 1195.39,254.05 L1192.70,266.74 C1192.10,269.53 1190.10,270.16 1189.10,268.54" fill="none" stroke="#000" stroke-width="1.5" stroke-linecap="round"/><circle cx="1198.19" cy="253.60" r="0.95" fill="#000"/><circle cx="1189.70" cy="268.54" r="0.95" fill="#000"/><path d="M1191.20,257.20 H1198.09" stroke="#000" stroke-width="1.1" fill="none"/><text transform="translate(1196.54,269.50) scale(1.358,1)" font-family="Liberation Serif, serif" font-size="13.61" font-style="italic">n</text><path d="M1203.6,251.2 L1205.4,251.2 L1202.75,256.8 L1202.0500000000002,256.8 Z" fill="#000"/>
<path d="M1259.93,422.34 C1259.56,420.56 1257.39,420.39 1256.73,423.02 L1254.18,435.01 C1253.61,437.64 1251.73,438.24 1250.78,436.71" fill="none" stroke="#000" stroke-width="1.5" stroke-linecap="round"/><circle cx="1259.37" cy="422.60" r="0.95" fill="#000"/><circle cx="1251.35" cy="436.71" r="0.95" fill="#000"/><path d="M1252.76,426.00 H1259.27" stroke="#000" stroke-width="1.1" fill="none"/><text transform="translate(1258.15,437.60) scale(1.228,1)" font-family="Liberation Serif, serif" font-size="14.51" font-style="italic">n</text>
<text x="74.4" y="464" text-anchor="middle" font-family="Liberation Serif, serif" font-size="22" font-weight="bold" textLength="124.5" lengthAdjust="spacingAndGlyphs" >XRA Squence</text>
<text x="346.4" y="464" text-anchor="middle" font-family="Liberation Serif, serif" font-size="22" font-weight="bold" textLength="174.6" lengthAdjust="spacingAndGlyphs" >Quantum Diffuison</text>
<text x="678.5" y="464" text-anchor="middle" font-family="Liberation Serif, serif" font-size="22" font-weight="bold" textLength="306" lengthAdjust="spacingAndGlyphs" >Spatio-Temporal Feature Sharing</text>
<text x="925.7" y="464" text-anchor="middle" font-family="Liberation Serif, serif" font-size="22" font-weight="bold" textLength="155.3" lengthAdjust="spacingAndGlyphs" >Detection Results</text>
<text x="529.5" y="494.6" text-anchor="middle" font-family="Liberation Serif, serif" font-size="21" font-weight="normal" textLength="23" lengthAdjust="spacingAndGlyphs" >(a)</text>
<text x="1157.4" y="494" text-anchor="middle" font-family="Liberation Serif, serif" font-size="21" font-weight="normal" textLength="24" lengthAdjust="spacingAndGlyphs" >(b)</text>
</g></svg></body></html>
